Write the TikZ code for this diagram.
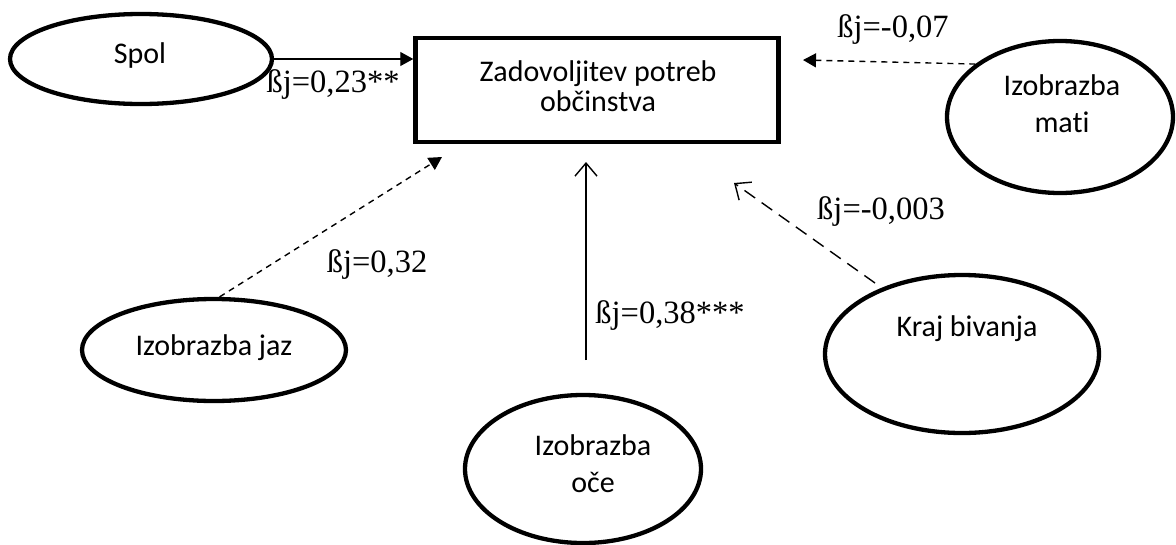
\documentclass[tikz,border=0pt]{standalone}
\usepackage{fontspec}
\setmainfont{Liberation Serif}
\newfontfamily\carlfont[Ligatures={NoCommon}]{Carlito}
\usetikzlibrary{shapes.geometric,arrows.meta}
\tikzset{
  oval/.style={ellipse, draw, line width=4.3pt, inner sep=0pt},
  mainbox/.style={rectangle, draw, line width=4.5pt, inner sep=0pt},
  sanstxt/.style={font=\carlfont\fontsize{30}{37}\selectfont, align=center, inner sep=0pt},
  beta/.style={font=\fontsize{32.5}{36}\selectfont, inner sep=0pt},
  link/.style={line width=1.4pt},
  filledhead/.style={-{Triangle[length=13pt,width=14pt]}},
  openhead/.style={-{Straight Barb[length=13pt,width=22pt,line width=1.4pt]}},
  shortdash/.style={dash pattern=on 6pt off 5pt},
  longdash/.style={dash pattern=on 13pt off 8pt}
}
\begin{document}
\begin{tikzpicture}[x=1pt,y=-1pt]
\useasboundingbox (0,0) rectangle (1176,544);
% nodes
\node[mainbox, minimum width=363pt, minimum height=104pt] (box) at (597,90) {};
\node[sanstxt, font=\carlfont\fontsize{30}{30}\selectfont] (boxtxt) at (598,86) {Zadovoljitev potreb\\ob\v{c}instva};
\node[oval, minimum width=262pt, minimum height=90pt] (spol) at (141,59) {};
\node[sanstxt] (spoltxt) at (140,55) {Spol};
\node[oval, minimum width=226pt, minimum height=152pt] (mati) at (1060,117) {};
\node[sanstxt] (matitxt) at (1062,104) {Izobrazba\\mati};
\node[oval, minimum width=264pt, minimum height=102pt] (jaz) at (214,350) {};
\node[sanstxt] (jaztxt) at (214,348) {Izobrazba jaz};
\node[oval, minimum width=236pt, minimum height=148pt] (oce) at (583,469) {};
\node[sanstxt] (ocetxt) at (593,464) {Izobrazba\\o\v{c}e};
\node[oval, minimum width=274pt, minimum height=158pt] (kraj) at (962,354) {};
\node[sanstxt] (krajtxt) at (967,329) {Kraj bivanja};
% arrow end coordinates
\coordinate (matitip) at (803,60);
\coordinate (jaztip) at (442,157);
\coordinate (ocestart) at (586,360);
\coordinate (ocetip) at (586,162);
\coordinate (krajstart) at (875,283);
\coordinate (krajtip) at (734,183);
% connectors
\draw[link, filledhead] (spol.east) -- (spol.east -| box.west);
\draw[link, filledhead, shortdash] (mati.148) -- (matitip);
\draw[link, filledhead, shortdash] (jaz.84) -- (jaztip);
\draw[link, openhead] (ocestart) -- (ocetip);
\draw[link, openhead, longdash] (krajstart) -- (krajtip);
% labels
\node[beta] (b1) at (333,85) {ßj=0,23**};
\node[beta] (b2) at (893,30) {ßj=-0,07};
\node[beta] (b3) at (377,265) {ßj=0,32};
\node[beta] (b4) at (670,316) {ßj=0,38***};
\node[beta] (b5) at (881,212) {ßj=-0,003};
\end{tikzpicture}
\end{document}
